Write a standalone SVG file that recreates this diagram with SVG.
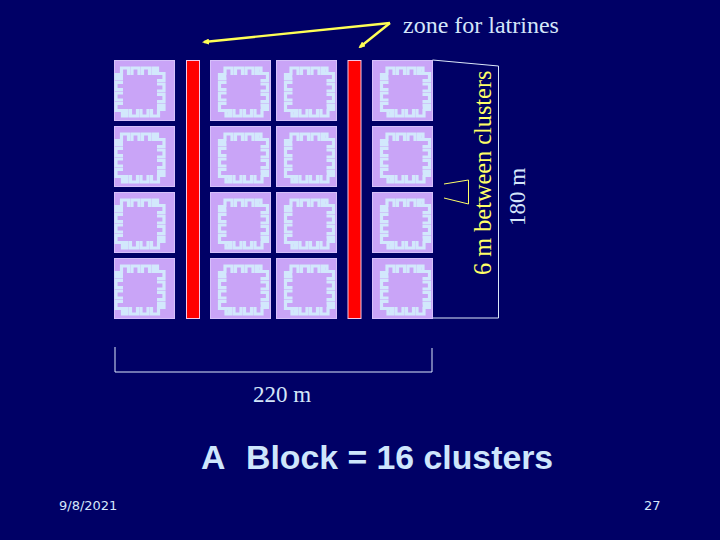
<svg xmlns="http://www.w3.org/2000/svg" xmlns:xlink="http://www.w3.org/1999/xlink" width="720" height="540" viewBox="0 0 720 540">
<style>
.t{font-family:"Liberation Serif","Times New Roman",serif;font-size:24px;fill:#d4e6fa}
.n{font-size:23px}
.y{fill:#ffff66;font-size:24.300px}
.s{font-family:"DejaVu Sans",Verdana,sans-serif;font-size:13px;fill:#d4e6fa}
.b{font-family:"Liberation Sans",Arial,sans-serif;font-size:33.800px;font-weight:bold;fill:#cfe6fc}
.pad{fill:#c9a4f7;stroke:#d6c0fa;stroke-width:1}
.m{fill:none;stroke:#d2e8fc;stroke-width:3.2}
.bar{fill:#ff0000;stroke:#f4c8e8;stroke-width:1}
.l{fill:none;stroke:#dce8fa;stroke-width:1}
.a{fill:none;stroke:#ffff55;stroke-width:2.400}
.tr{fill:none;stroke:#ffff66;stroke-width:1}
</style>
<defs>
<g id="side"><path class="m" d="M3 12H8V2.500H15V10M18.500 10V2.500H25.500V10M29 10V2.500H36V10M39.500 10V2.500H44V7"/></g>
<g id="ring">
<use xlink:href="#side"/>
<use xlink:href="#side" transform="rotate(90 26.500 26.500)"/>
<use xlink:href="#side" transform="rotate(180 26.500 26.500)"/>
<use xlink:href="#side" transform="rotate(270 26.500 26.500)"/>
<rect x="9.500" y="9.500" width="34" height="34" fill="#c9a4f7"/>
</g>
<g id="cA"><rect class="pad" x="0" y="0" width="60" height="60"/><use xlink:href="#ring" transform="translate(-1 5)"/></g>
<g id="cB"><rect class="pad" x="0" y="0" width="60" height="60"/><use xlink:href="#ring" transform="translate(6.500 5)"/></g>
<marker id="ah" markerWidth="7" markerHeight="6" refX="5" refY="3" orient="auto" markerUnits="userSpaceOnUse"><path d="M0 0L7 3L0 6Z" fill="#ffff55"/></marker>
</defs>
<rect width="720" height="540" fill="#000066"/>
<g id="connectors">
<path class="a" d="M390 23L204 42" marker-end="url(#ah)"/>
<path class="a" d="M390 23L360 47" marker-end="url(#ah)"/>
<path class="l" d="M432.500 60L498.500 66V318H432.500"/>
<path class="l" d="M115 347V372H432V348"/>
<path class="tr" d="M444 184L468.500 180V204L444 198"/>
</g>
<g id="col1">
<use id="n1" xlink:href="#cA" x="114.500" y="60.500"/><use id="n2" xlink:href="#cA" x="114.500" y="126.500"/><use id="n3" xlink:href="#cA" x="114.500" y="192.500"/><use id="n4" xlink:href="#cA" x="114.500" y="258.500"/>
</g>
<g id="col2">
<use id="n5" xlink:href="#cB" x="210.500" y="60.500"/><use id="n6" xlink:href="#cB" x="210.500" y="126.500"/><use id="n7" xlink:href="#cB" x="210.500" y="192.500"/><use id="n8" xlink:href="#cB" x="210.500" y="258.500"/>
</g>
<g id="col3">
<use id="n9" xlink:href="#cB" x="276.500" y="60.500"/><use id="n10" xlink:href="#cB" x="276.500" y="126.500"/><use id="n11" xlink:href="#cB" x="276.500" y="192.500"/><use id="n12" xlink:href="#cB" x="276.500" y="258.500"/>
</g>
<g id="col4">
<use id="n13" xlink:href="#cB" x="372.500" y="60.500"/><use id="n14" xlink:href="#cB" x="372.500" y="126.500"/><use id="n15" xlink:href="#cB" x="372.500" y="192.500"/><use id="n16" xlink:href="#cB" x="372.500" y="258.500"/>
</g>
<g id="latrine1"><rect class="bar" x="186.500" y="60.500" width="13" height="258"/></g>
<g id="latrine2"><rect class="bar" x="348" y="60.500" width="13" height="258"/></g>
<g id="labels">
<text class="t" x="403" y="33">zone for latrines</text>
<text class="t y" transform="translate(491 275) rotate(-90)">6 m between clusters</text>
<text class="t n" transform="translate(525 226) rotate(-90)">180 m</text>
<text class="t n" x="253" y="402">220 m</text>
<text class="b" x="201" y="469">A</text>
<text class="b" x="246" y="469">Block = 16 clusters</text>
<text class="s" x="59" y="510">9/8/2021</text>
<text class="s" x="644" y="510">27</text>
</g>
</svg>
